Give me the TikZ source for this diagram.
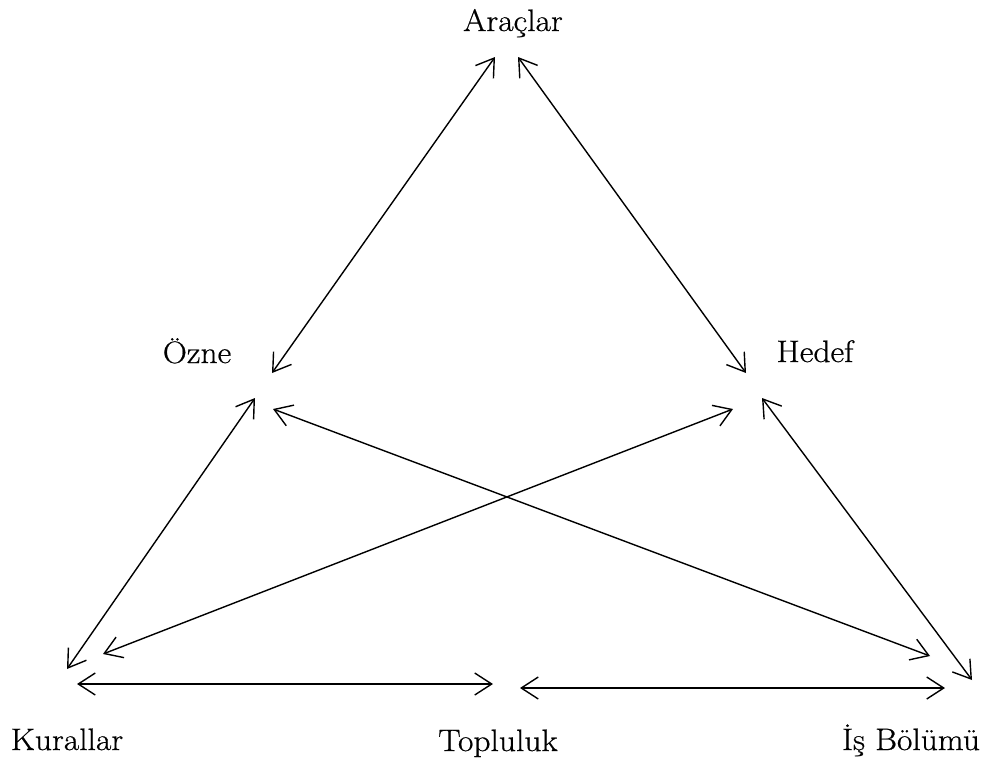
\documentclass[tikz,border=0pt]{standalone}
\usepackage{fontspec}
\setmainfont{Latin Modern Roman}[FakeStretch=1.08,FakeBold=0.6]
\usetikzlibrary{arrows.meta}
\begin{document}
\begin{tikzpicture}[x=1pt,y=-1pt,
  lbl/.style={font=\fontsize{31}{37}\selectfont, anchor=base, inner sep=0pt},
  link/.style={draw=black, line width=1.4pt, {Straight Barb[length=17pt,width=22pt]}-{Straight Barb[length=17pt,width=22pt]}}]
\useasboundingbox (0,0) rectangle (986,769);
% labels
\node[lbl] (ar) at (513,31) {Araçlar};
\node[lbl] (oz) at (197,363) {Özne};
\node[lbl] (he) at (815,362) {Hedef};
\node[lbl] (ku) at (67,750) {Kurallar};
\node[lbl] (to) at (498,751) {Topluluk};
\node[lbl] (is) at (911,750) {İş Bölümü};
% arrow end points
\coordinate (arL) at (495,57);
\coordinate (arR) at (518,57);
\coordinate (ozA) at (272,373);
\coordinate (ozK) at (255,398);
\coordinate (ozI) at (273,409);
\coordinate (heA) at (746,373);
\coordinate (heK) at (733,409);
\coordinate (heI) at (762,398);
\coordinate (kuO) at (67,669);
\coordinate (kuH) at (103,654);
\coordinate (kuT) at (77,684);
\coordinate (toK) at (493,684);
\coordinate (toI) at (520,688);
\coordinate (isO) at (930,656);
\coordinate (isH) at (972,680);
\coordinate (isT) at (945,688);
% connectors
\draw[link] (arL) -- (ozA);
\draw[link] (arR) -- (heA);
\draw[link] (ozK) -- (kuO);
\draw[link] (ozI) -- (isO);
\draw[link] (heK) -- (kuH);
\draw[link] (heI) -- (isH);
\draw[link] (kuT) -- (toK);
\draw[link] (toI) -- (isT);
\end{tikzpicture}
\end{document}
